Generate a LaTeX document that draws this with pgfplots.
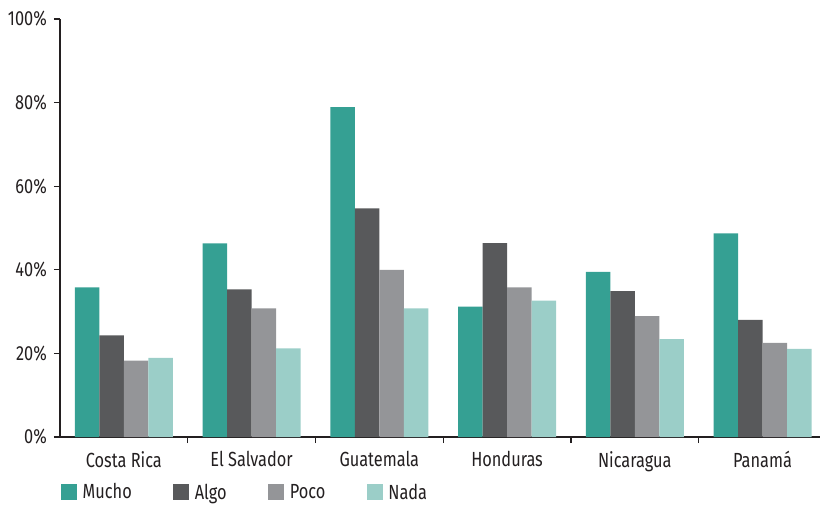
\documentclass[border=0pt]{standalone}
\usepackage{pgfplots}
\pgfplotsset{compat=1.18}
\usepackage{fontspec}
\setmainfont{Fira Sans}[FakeStretch=0.8]
\definecolor{mucho}{HTML}{35A093}
\definecolor{algo}{HTML}{58595B}
\definecolor{poco}{HTML}{949598}
\definecolor{nada}{HTML}{9BCEC8}
\definecolor{ink}{HTML}{231F20}
\begin{document}
\begin{tikzpicture}
\begin{axis}[
at={(0,0)}, anchor=south west,
scale only axis,
width=760bp, height=418bp,
xmin=-0.5, xmax=5.45,
ymin=0, ymax=100,
axis x line*=bottom,
axis y line*=left,
axis line style={ink, line width=1.2bp},
tick style={ink, line width=1.2bp},
tick align=outside,
major tick length=6bp,
ybar=0pt,
bar width=24.5bp,
ytick={0,20,40,60,80,100},
yticklabels={0\%,20\%,40\%,60\%,80\%,100\%},
yticklabel style={font=\fontsize{20.5}{24}\selectfont, text=ink, inner sep=0pt, xshift=-7bp},
xtick={0.5,1.5,2.5,3.5,4.5},
xticklabels={},
extra x ticks={0,1,2,3,4,5},
extra x tick labels={Costa Rica,El Salvador,Guatemala,Honduras,Nicaragua,Panamá},
extra x tick style={major tick length=0pt, tick label style={font=\fontsize{20.5}{24}\selectfont, text=ink, inner sep=0pt, anchor=north, yshift=-14bp}},
legend columns=4,
legend style={at={(0,0)}, anchor=north west, xshift=1bp, yshift=-46bp,
  draw=none, inner sep=0pt, font=\fontsize{20.5}{24}\selectfont, text=ink,
  nodes={inner sep=0.5bp},
  /tikz/every odd column/.style={column sep=5bp},
  /tikz/every even column/.style={column sep=41bp}},
legend image code/.code={\fill[#1] (0bp,-8bp) rectangle (16bp,8bp);},
]
% Mucho
\addplot[fill=mucho, draw=none] coordinates {(0,35.8) (1,46.3) (2,78.9) (3,31.2) (4,39.5) (5,48.7)};
% Algo
\addplot[fill=algo, draw=none] coordinates {(0,24.3) (1,35.3) (2,54.7) (3,46.4) (4,34.9) (5,28.0)};
% Poco
\addplot[fill=poco, draw=none] coordinates {(0,18.3) (1,30.8) (2,40.0) (3,35.8) (4,28.9) (5,22.5)};
% Nada
\addplot[fill=nada, draw=none] coordinates {(0,18.9) (1,21.2) (2,30.8) (3,32.6) (4,23.4) (5,21.1)};
\legend{Mucho,Algo,Poco,Nada}
\end{axis}
\pgfresetboundingbox
\useasboundingbox (-60bp,-68bp) rectangle (760bp,437bp);
\end{tikzpicture}
\end{document}
